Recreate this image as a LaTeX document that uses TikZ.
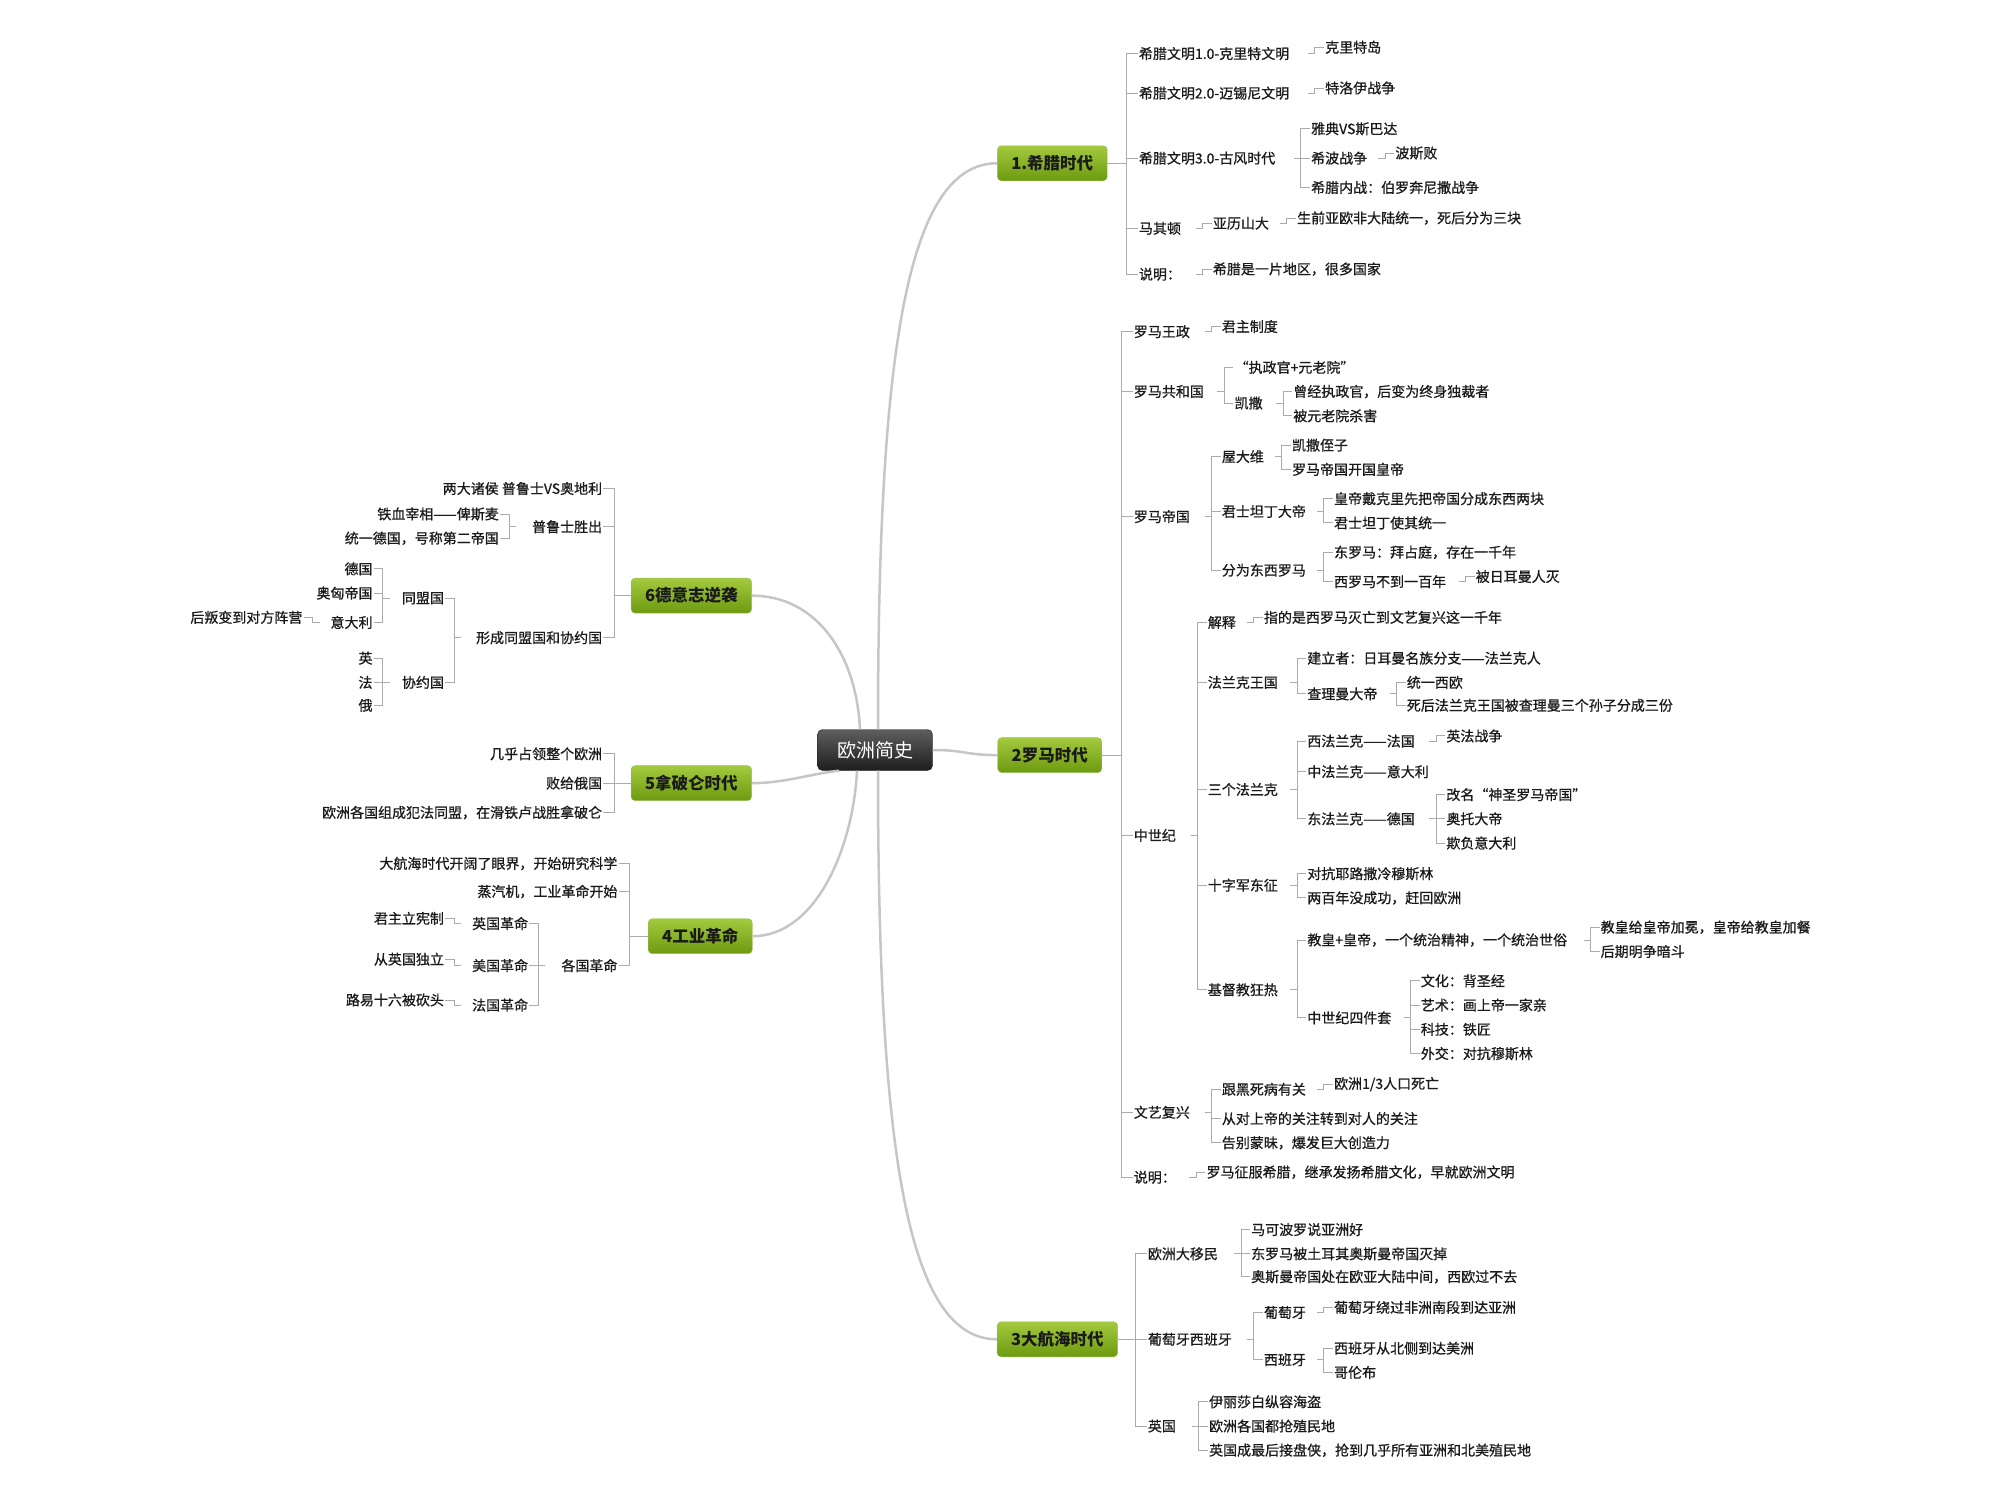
\documentclass[tikz,border=0pt]{standalone}
\usepackage{fontspec}
\setmainfont{Noto Sans CJK SC}
\newfontfamily\leaffont{Noto Sans CJK SC}[FakeBold=0.8]
\usetikzlibrary{calc}

\definecolor{txt}{HTML}{1A1A1A}
\definecolor{linegray}{HTML}{ABABAB}
\definecolor{trunkgray}{HTML}{C6C6C6}
\definecolor{greentop}{HTML}{A4CA3E}
\definecolor{greenbot}{HTML}{6C9A10}
\definecolor{greenline}{HTML}{9CBD5A}
\definecolor{darktop}{HTML}{5E5E5E}
\definecolor{darkbot}{HTML}{1E1E1E}

% connectors to the right
\newcommand{\bmr}[2]{\draw[con] (#1.east) -| ([xshift=-11pt]#2.west) -- (#2.west);}
\newcommand{\br}[2]{\draw[con] (#1.east -| #2.west) ++(-16pt,0) -- ++(7pt,0) |- (#2.west);}
% connectors to the left
\newcommand{\bml}[2]{\draw[con] (#1.west) -| ([xshift=11pt]#2.east) -- (#2.east);}
\newcommand{\bl}[2]{\draw[con] (#1.west -| #2.east) ++(16pt,0) -- ++(-7pt,0) |- (#2.east);}

\begin{document}
\begin{tikzpicture}[x=1.2755pt,y=-1.2755pt,
  tr/.style={anchor=west, inner sep=1pt, text=txt, font=\leaffont\fontsize{14}{16}\selectfont},
  tl/.style={tr, anchor=east},
  box/.style={rounded corners=4pt, top color=greentop, bottom color=greenbot, draw=greenline, inner xsep=14pt, minimum height=35pt, text=txt, font=\fontsize{16.5}{18}\selectfont\bfseries},
  root/.style={rounded corners=5pt, top color=darktop, bottom color=darkbot, draw=darkbot, text=white, minimum width=115pt, minimum height=41pt, font=\fontsize{19}{22}\selectfont},
  con/.style={draw=linegray, line width=1pt},
  trunk/.style={draw=trunkgray, line width=2.5pt}]
\useasboundingbox (0,0) rectangle (1568,1176);

\draw (686, 588) node[root] (root) {欧洲简史};
\draw (825, 128) node[box] (g1) {1.希腊时代};
\draw (823, 592) node[box] (g2) {2罗马时代};
\draw (829, 1050) node[box] (g3) {3大航海时代};
\draw (549, 734) node[box] (g4) {4工业革命};
\draw (542, 614) node[box] (g5) {5拿破仑时代};
\draw (542, 467) node[box] (g6) {6德意志逆袭};

\draw[trunk] ([xshift=3pt]root.north) .. controls +(0,-300) and +(-70,0) .. (g1.west);
\draw[trunk] (root.east) .. controls +(25,0) and +(-25,0) .. (g2.west);
\draw[trunk] ([xshift=3pt]root.south) .. controls +(0,300) and +(-70,0) .. (g3.west);
\draw[trunk] ([xshift=-18pt]root.south) .. controls +(-3,60) and +(50,0) .. (g4.east);
\draw[trunk] ([xshift=-36pt]root.south) .. controls +(-25,3) and +(25,0) .. (g5.east);
\draw[trunk] ([xshift=-15pt]root.north) .. controls +(-3,-60) and +(50,0) .. (g6.east);

% greece
\draw (892, 42) node[tr] (gk1) {希腊文明1.0-克里特文明};
\draw (1038, 37) node[tr] (gk1a) {克里特岛};
\draw (892, 73) node[tr] (gk2) {希腊文明2.0-迈锡尼文明};
\draw (1038, 69) node[tr] (gk2a) {特洛伊战争};
\draw (892, 124) node[tr] (gk3) {希腊文明3.0-古风时代};
\draw (1027, 101) node[tr] (gk3a) {雅典VS斯巴达};
\draw (1027, 124) node[tr] (gk3b) {希波战争};
\draw (1093, 120) node[tr] (gk3c) {波斯败};
\draw (1027, 147) node[tr] (gk3d) {希腊内战：伯罗奔尼撒战争};
\draw (892, 179) node[tr] (gk4) {马其顿};
\draw (950, 175) node[tr] (gk4a) {亚历山大};
\draw (1016, 171) node[tr] (gk4b) {生前亚欧非大陆统一，死后分为三块};
\draw (892, 215) node[tr] (gk5) {说明：};
\draw (950, 211) node[tr] (gk5a) {希腊是一片地区，很多国家};
\bmr{g1}{gk1} \bmr{g1}{gk2} \bmr{g1}{gk3} \bmr{g1}{gk4} \bmr{g1}{gk5}
\br{gk1}{gk1a} \br{gk2}{gk2a}
\br{gk3}{gk3a} \br{gk3}{gk3b} \br{gk3}{gk3d} \br{gk3b}{gk3c}
\br{gk4}{gk4a} \br{gk4a}{gk4b} \br{gk5}{gk5a}

% rome
\draw (888, 260) node[tr] (rm1) {罗马王政};
\draw (957, 256) node[tr] (rm1a) {君主制度};
\draw (888, 307) node[tr] (rm2) {罗马共和国};
\draw (967, 288) node[tr] (rm2a) {“执政官+元老院”};
\draw (967, 316) node[tr] (rm2b) {凯撒};
\draw (1013, 307) node[tr] (rm2b1) {曾经执政官，后变为终身独裁者};
\draw (1013, 326) node[tr] (rm2b2) {被元老院杀害};
\draw (888, 405) node[tr] (rm3) {罗马帝国};
\draw (957, 358) node[tr] (rm3a) {屋大维};
\draw (1012, 349) node[tr] (rm3a1) {凯撒侄子};
\draw (1012, 368) node[tr] (rm3a2) {罗马帝国开国皇帝};
\draw (957, 401) node[tr] (rm3b) {君士坦丁大帝};
\draw (1045, 391) node[tr] (rm3b1) {皇帝戴克里先把帝国分成东西两块};
\draw (1045, 410) node[tr] (rm3b2) {君士坦丁使其统一};
\draw (957, 447) node[tr] (rm3c) {分为东西罗马};
\draw (1045, 433) node[tr] (rm3c1) {东罗马：拜占庭，存在一千年};
\draw (1045, 456) node[tr] (rm3c2) {西罗马不到一百年};
\draw (1156, 452) node[tr] (rm3c3) {被日耳曼人灭};
\bmr{g2}{rm1} \bmr{g2}{rm2} \bmr{g2}{rm3}
\br{rm1}{rm1a} \br{rm2}{rm2a} \br{rm2}{rm2b} \br{rm2b}{rm2b1} \br{rm2b}{rm2b2}
\br{rm3}{rm3a} \br{rm3}{rm3b} \br{rm3}{rm3c}
\br{rm3a}{rm3a1} \br{rm3a}{rm3a2} \br{rm3b}{rm3b1} \br{rm3b}{rm3b2}
\br{rm3c}{rm3c1} \br{rm3c}{rm3c2} \br{rm3c2}{rm3c3}

% middle ages
\draw (888, 655) node[tr] (md) {中世纪};
\draw (946, 488) node[tr] (md1) {解释};
\draw (990, 484) node[tr] (md1a) {指的是西罗马灭亡到文艺复兴这一千年};
\draw (946, 535) node[tr] (md2) {法兰克王国};
\draw (1024, 516) node[tr] (md2a) {建立者：日耳曼名族分支——法兰克人};
\draw (1024, 544) node[tr] (md2b) {查理曼大帝};
\draw (1102, 535) node[tr] (md2b1) {统一西欧};
\draw (1102, 553) node[tr] (md2b2) {死后法兰克王国被查理曼三个孙子分成三份};
\draw (946, 619) node[tr] (md3) {三个法兰克};
\draw (1024, 581) node[tr] (md3a) {西法兰克——法国};
\draw (1133, 577) node[tr] (md3a1) {英法战争};
\draw (1024, 605) node[tr] (md3b) {中法兰克——意大利};
\draw (1024, 642) node[tr] (md3c) {东法兰克——德国};
\draw (1133, 623) node[tr] (md3c1) {改名“神圣罗马帝国”};
\draw (1133, 642) node[tr] (md3c2) {奥托大帝};
\draw (1133, 661) node[tr] (md3c3) {欺负意大利};
\draw (946, 694) node[tr] (md4) {十字军东征};
\draw (1024, 685) node[tr] (md4a) {对抗耶路撒冷穆斯林};
\draw (1024, 704) node[tr] (md4b) {两百年没成功，赶回欧洲};
\draw (946, 776) node[tr] (md5) {基督教狂热};
\draw (1024, 737) node[tr] (md5a) {教皇+皇帝，一个统治精神，一个统治世俗};
\draw (1254, 727) node[tr] (md5a1) {教皇给皇帝加冕，皇帝给教皇加餐};
\draw (1254, 746) node[tr] (md5a2) {后期明争暗斗};
\draw (1024, 798) node[tr] (md5b) {中世纪四件套};
\draw (1113, 769) node[tr] (md5b1) {文化：背圣经};
\draw (1113, 788) node[tr] (md5b2) {艺术：画上帝一家亲};
\draw (1113, 807) node[tr] (md5b3) {科技：铁匠};
\draw (1113, 826) node[tr] (md5b4) {外交：对抗穆斯林};
\bmr{g2}{md}
\br{md}{md1} \br{md}{md2} \br{md}{md3} \br{md}{md4} \br{md}{md5}
\br{md1}{md1a} \br{md2}{md2a} \br{md2}{md2b} \br{md2b}{md2b1} \br{md2b}{md2b2}
\br{md3}{md3a} \br{md3}{md3b} \br{md3}{md3c} \br{md3a}{md3a1}
\br{md3c}{md3c1} \br{md3c}{md3c2} \br{md3c}{md3c3}
\br{md4}{md4a} \br{md4}{md4b}
\br{md5}{md5a} \br{md5}{md5b} \br{md5a}{md5a1} \br{md5a}{md5a2}
\br{md5b}{md5b1} \br{md5b}{md5b2} \br{md5b}{md5b3} \br{md5b}{md5b4}

% renaissance
\draw (888, 872) node[tr] (rn) {文艺复兴};
\draw (957, 854) node[tr] (rn1) {跟黑死病有关};
\draw (1045, 850) node[tr] (rn1a) {欧洲1/3人口死亡};
\draw (957, 877) node[tr] (rn2) {从对上帝的关注转到对人的关注};
\draw (957, 896) node[tr] (rn3) {告别蒙昧，爆发巨大创造力};
\draw (888, 923) node[tr] (rm6) {说明：};
\draw (945, 919) node[tr] (rm6a) {罗马征服希腊，继承发扬希腊文化，早就欧洲文明};
\bmr{g2}{rn} \bmr{g2}{rm6}
\br{rn}{rn1} \br{rn}{rn2} \br{rn}{rn3} \br{rn1}{rn1a} \br{rm6}{rm6a}

% voyages
\draw (899, 983) node[tr] (vy1) {欧洲大移民};
\draw (980, 964) node[tr] (vy1a) {马可波罗说亚洲好};
\draw (980, 983) node[tr] (vy1b) {东罗马被土耳其奥斯曼帝国灭掉};
\draw (980, 1001) node[tr] (vy1c) {奥斯曼帝国处在欧亚大陆中间，西欧过不去};
\draw (899, 1050) node[tr] (vy2) {葡萄牙西班牙};
\draw (990, 1029) node[tr] (vy2a) {葡萄牙};
\draw (1045, 1025) node[tr] (vy2a1) {葡萄牙绕过非洲南段到达亚洲};
\draw (990, 1066) node[tr] (vy2b) {西班牙};
\draw (1045, 1057) node[tr] (vy2b1) {西班牙从北侧到达美洲};
\draw (1045, 1076) node[tr] (vy2b2) {哥伦布};
\draw (899, 1118) node[tr] (vy3) {英国};
\draw (947, 1099) node[tr] (vy3a) {伊丽莎白纵容海盗};
\draw (947, 1118) node[tr] (vy3b) {欧洲各国都抢殖民地};
\draw (947, 1137) node[tr] (vy3c) {英国成最后接盘侠，抢到几乎所有亚洲和北美殖民地};
\bmr{g3}{vy1} \bmr{g3}{vy2} \bmr{g3}{vy3}
\br{vy1}{vy1a} \br{vy1}{vy1b} \br{vy1}{vy1c}
\br{vy2}{vy2a} \br{vy2}{vy2b} \br{vy2a}{vy2a1} \br{vy2b}{vy2b1} \br{vy2b}{vy2b2}
\br{vy3}{vy3a} \br{vy3}{vy3b} \br{vy3}{vy3c}

% germany
\draw (473, 383) node[tl] (de1) {两大诸侯 普鲁士VS奥地利};
\draw (473, 413) node[tl] (de2) {普鲁士胜出};
\draw (392, 403) node[tl] (de2a) {铁血宰相——俾斯麦};
\draw (392, 422) node[tl] (de2b) {统一德国，号称第二帝国};
\draw (473, 500) node[tl] (de3) {形成同盟国和协约国};
\draw (349, 469) node[tl] (de3a) {同盟国};
\draw (293, 446) node[tl] (de3a1) {德国};
\draw (293, 465) node[tl] (de3a2) {奥匈帝国};
\draw (293, 488) node[tl] (de3a3) {意大利};
\draw (238, 484) node[tl] (de3a4) {后叛变到对方阵营};
\draw (349, 535) node[tl] (de3b) {协约国};
\draw (293, 516) node[tl] (de3b1) {英};
\draw (293, 535) node[tl] (de3b2) {法};
\draw (293, 553) node[tl] (de3b3) {俄};
\bml{g6}{de1} \bml{g6}{de2} \bml{g6}{de3}
\bl{de2}{de2a} \bl{de2}{de2b}
\bl{de3}{de3a} \bl{de3}{de3b}
\bl{de3a}{de3a1} \bl{de3a}{de3a2} \bl{de3a}{de3a3} \bl{de3a3}{de3a4}
\bl{de3b}{de3b1} \bl{de3b}{de3b2} \bl{de3b}{de3b3}

% napoleon
\draw (473, 591) node[tl] (np1) {几乎占领整个欧洲};
\draw (473, 614) node[tl] (np2) {败给俄国};
\draw (473, 637) node[tl] (np3) {欧洲各国组成犯法同盟，在滑铁卢战胜拿破仑};
\bml{g5}{np1} \bml{g5}{np2} \bml{g5}{np3}

% industry
\draw (485, 677) node[tl] (in1) {大航海时代开阔了眼界，开始研究科学};
\draw (485, 699) node[tl] (in2) {蒸汽机，工业革命开始};
\draw (485, 757) node[tl] (in3) {各国革命};
\draw (415, 724) node[tl] (in3a) {英国革命};
\draw (349, 720) node[tl] (in3a1) {君主立宪制};
\draw (415, 757) node[tl] (in3b) {美国革命};
\draw (349, 752) node[tl] (in3b1) {从英国独立};
\draw (415, 788) node[tl] (in3c) {法国革命};
\draw (349, 784) node[tl] (in3c1) {路易十六被砍头};
\bml{g4}{in1} \bml{g4}{in2} \bml{g4}{in3}
\bl{in3}{in3a} \bl{in3}{in3b} \bl{in3}{in3c}
\bl{in3a}{in3a1} \bl{in3b}{in3b1} \bl{in3c}{in3c1}
\end{tikzpicture}
\end{document}
